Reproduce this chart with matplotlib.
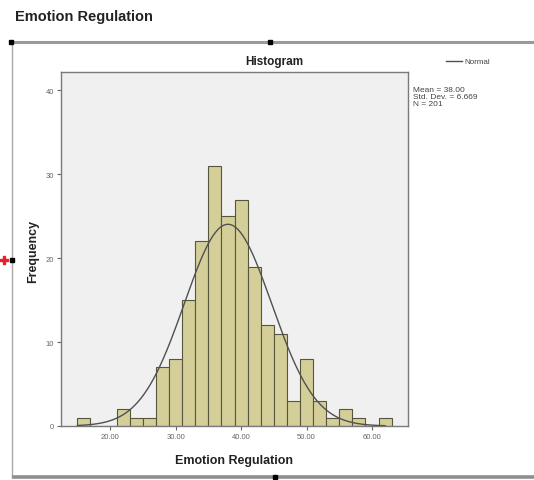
import numpy as np
import matplotlib

matplotlib.use("Agg")
import matplotlib.pyplot as plt

plt.rcParams["font.family"] = ["Liberation Sans", "DejaVu Sans"]

# histogram of Emotion Regulation scores (bins of width 2 starting at 15)
bin_start = 15
bin_width = 2
counts = [1, 0, 0, 2, 1, 1, 7, 8, 15, 22, 31, 25, 27, 19,
          12, 11, 3, 8, 3, 1, 2, 1, 0, 1]
x_ticks = [20, 30, 40, 50, 60]
y_ticks = [0, 10, 20, 30, 40]

mean_val = 38.00
std_val = 6.669
n_val = 201

BAR_COLOR = "#d4cf98"
EDGE_COLOR = "#56563f"
BG_COLOR = "#f0f0f0"

W, H = 534, 481
fig = plt.figure(figsize=(W / 100, H / 100), dpi=100)
fig.patch.set_facecolor("white")

# overlay in pixel coords for the editor frame and handles
over = fig.add_axes([0, 0, 1, 1], zorder=0)
over.set_xlim(0, W)
over.set_ylim(H, 0)
over.axis("off")
over.plot([10, W], [43, 43], color="#9a9a9a", lw=2.2, solid_capstyle="butt")
over.plot([12, 12], [43, 478], color="#a8a8a8", lw=1.0)
over.plot([12, W], [478, 478], color="#8f8f8f", lw=2.6, solid_capstyle="butt")
over.plot([11, 270, 12, 275], [43, 43, 261, 478], "s", color="black", ms=2.6)
over.plot([4], [261], marker="P", color="#e8202a", ms=5.5)

over.text(15, 17, "Emotion Regulation", fontsize=10.5, fontweight="bold",
          ha="left", va="center", color="#222222")
over.text(274, 62, "Histogram", fontsize=8.5, fontweight="bold",
          ha="center", va="center", color="#222222")

ax = fig.add_axes([61 / W, 1 - 427 / H, (408 - 61) / W, (427 - 73) / H], zorder=2)
ax.set_facecolor(BG_COLOR)

lefts = [bin_start + i * bin_width for i in range(len(counts))]
ax.bar(lefts, counts, width=bin_width, align="edge", color=BAR_COLOR,
       edgecolor=EDGE_COLOR, linewidth=0.8, zorder=2)

xs = np.linspace(15, 62, 300)
curve = n_val * bin_width / (std_val * np.sqrt(2 * np.pi)) * np.exp(-0.5 * ((xs - mean_val) / std_val) ** 2)
ax.plot(xs, curve, color="#505050", lw=1.0, zorder=3)

ax.set_xlim(12.5, 65.5)
ax.set_ylim(0, 42.2)
ax.set_xticks(x_ticks)
ax.set_xticklabels([f"{v:.2f}" for v in x_ticks])
ax.set_yticks(y_ticks)
ax.tick_params(axis="both", labelsize=5.5, colors="#666666", length=3, width=0.8,
               pad=2)
for s in ax.spines.values():
    s.set_color("#7a7a7a")
    s.set_linewidth(1.0)

over.text(234, 461, "Emotion Regulation", fontsize=9, fontweight="bold",
          ha="center", va="center", color="#222222")
over.text(33, 251, "Frequency", rotation=90, fontsize=9,
          fontweight="bold", ha="center", va="center", color="#222222")

# legend and stats box
over.plot([446, 462], [62, 62], color="#505050", lw=1.0)
over.text(464, 62, "Normal", fontsize=5.8, va="center", ha="left", color="#444444")
over.text(413, 87, f"Mean = {mean_val:.2f}\nStd. Dev. = {std_val:.3f}\nN = {n_val}",
          fontsize=6, va="top", ha="left", color="#444444", linespacing=1.05)

fig.savefig("out.png", dpi=100)
